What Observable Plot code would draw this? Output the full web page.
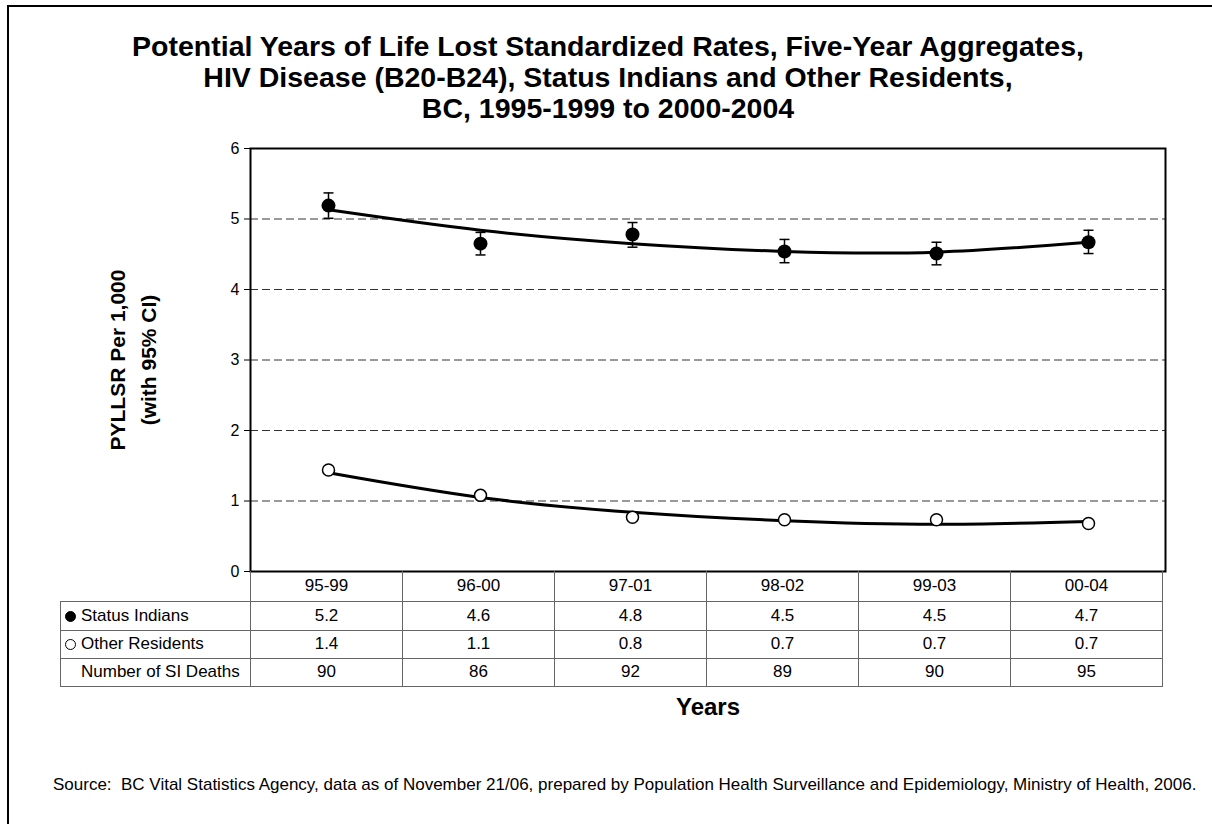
<!DOCTYPE html>
<html>
<head>
<meta charset="utf-8">
<script src="https://cdn.jsdelivr.net/npm/d3@7"></script>
<script src="https://cdn.jsdelivr.net/npm/@observablehq/plot@0.6"></script>
<style>
  html, body { margin: 0; padding: 0; background: #fff; overflow: hidden; }
  #wrap { position: relative; width: 1212px; height: 824px; overflow: hidden; font-family: "Liberation Sans", Arial, sans-serif; color: #000; }
  #border { position: absolute; left: 7px; top: 5px; width: 1400px; height: 1000px; border-left: 2px solid #000; border-top: 2px solid #000; }
  #title { position: absolute; left: 0; width: 1216px; top: 31px; text-align: center; font-weight: bold; font-size: 28.5px; line-height: 31px; }
  #plot { position: absolute; left: 0; top: 0; }
  #ylabel { position: absolute; left: 133px; top: 360px; width: 320px; margin-left: -160px; margin-top: -31px; height: 62px; transform: rotate(-90deg); text-align: center; font-weight: bold; font-size: 21px; line-height: 31px; white-space: pre; }
  #xlabel { position: absolute; top: 693px; left: 608px; width: 200px; text-align: center; font-weight: bold; font-size: 24px; line-height: 28px; }
  #source { position: absolute; left: 53px; top: 775px; font-size: 17px; line-height: 20px; white-space: pre; }
  #table { position: absolute; left: 60px; top: 571px; border-collapse: collapse; table-layout: fixed; }
  #table td { border: 1px solid #666; padding: 0; font-size: 17px; text-align: center; white-space: nowrap; overflow: hidden; }
  #table td.lab { text-align: left; padding-left: 4px; }
  #table td.blank { border-top: none; border-left: none; }
  .sym { display: inline-block; width: 11px; height: 11px; border-radius: 50%; border: 1.5px solid #000; box-sizing: border-box; vertical-align: -1px; margin-right: 5px; }
</style>
</head>
<body>
<div id="wrap">
  <div id="border"></div>
  <div id="title"></div>
  <div id="plot"></div>
  <div id="ylabel"></div>
  <div id="xlabel"></div>
  <div id="source"></div>
</div>
<script>
// ---- data ----
const periods = ["95-99", "96-00", "97-01", "98-02", "99-03", "00-04"];
const siRate  = [5.19, 4.65, 4.78, 4.54, 4.51, 4.67];
const siLow   = [5.01, 4.49, 4.60, 4.38, 4.35, 4.51];
const siHigh  = [5.37, 4.81, 4.95, 4.71, 4.67, 4.84];
const orRate  = [1.44, 1.08, 0.77, 0.735, 0.735, 0.68];
const siTrend = [5.13, 4.84, 4.65, 4.54, 4.53, 4.67];
const orTrend = [1.40, 1.05, 0.84, 0.72, 0.67, 0.71];
const tableSI = ["5.2", "4.6", "4.8", "4.5", "4.5", "4.7"];
const tableOR = ["1.4", "1.1", "0.8", "0.7", "0.7", "0.7"];
const siDeaths = ["90", "86", "92", "89", "90", "95"];
const yTicks = [0, 1, 2, 3, 4, 5, 6];
const gridValues = [1, 2, 3, 4, 5];
const titleLines = [
  "Potential Years of Life Lost Standardized Rates, Five-Year Aggregates,",
  "HIV Disease (B20-B24), Status Indians and Other Residents,",
  "BC, 1995-1999 to 2000-2004"
];
const yLabelLines = ["PYLLSR Per 1,000", "(with 95% CI)"];
const xLabel = "Years";
const rowLabels = ["Status Indians", "Other Residents", "Number of SI Deaths"];
const sourceText = "Source:  BC Vital Statistics Agency, data as of November 21/06, prepared by Population Health Surveillance and Epidemiology, Ministry of Health, 2006.";

// ---- build tables for the library ----
const si = periods.map((p, i) => ({period: p, rate: siRate[i], lo: siLow[i], hi: siHigh[i], trend: siTrend[i]}));
const or = periods.map((p, i) => ({period: p, rate: orRate[i], trend: orTrend[i]}));

const capSymbol = {
  draw(ctx, size) {
    const r = Math.sqrt(size / Math.PI);
    ctx.moveTo(-r, 0);
    ctx.lineTo(r, 0);
  }
};

const plot = Plot.plot({
  width: 1212,
  height: 700,
  marginLeft: 250,
  marginRight: 47,
  marginTop: 148,
  marginBottom: 129,
  style: {fontFamily: "'Liberation Sans', Arial, sans-serif", fontSize: "16px", color: "#000", background: "transparent"},
  x: {type: "band", domain: periods, padding: 0, axis: null},
  y: {domain: [0, 6]},
  marks: [
    Plot.ruleY(gridValues, {stroke: "#333", strokeWidth: 1, strokeDasharray: "8,4"}),
    Plot.axisY({ticks: yTicks, tickFormat: d3.format("d"), tickSize: 6, tickPadding: 5, fontSize: 16, label: null, stroke: "#000", strokeOpacity: 1}),
    Plot.line(si, {x: "period", y: "trend", curve: "natural", stroke: "#000", strokeWidth: 3}),
    Plot.line(or, {x: "period", y: "trend", curve: "natural", stroke: "#000", strokeWidth: 3}),
    Plot.ruleX(si, {x: "period", y1: "lo", y2: "hi", stroke: "#000", strokeWidth: 1.5}),
    Plot.dot(si, {x: "period", y: "hi", symbol: capSymbol, r: 5, fill: "none", stroke: "#000", strokeWidth: 1.5}),
    Plot.dot(si, {x: "period", y: "lo", symbol: capSymbol, r: 5, fill: "none", stroke: "#000", strokeWidth: 1.5}),
    Plot.dot(si, {x: "period", y: "rate", r: 7, fill: "#000", stroke: "none"}),
    Plot.dot(or, {x: "period", y: "rate", r: 6, fill: "#fff", stroke: "#000", strokeWidth: 1.5}),
    Plot.frame({stroke: "#000", strokeWidth: 2})
  ]
});
document.getElementById("plot").appendChild(plot);

// ---- texts ----
document.getElementById("title").innerHTML = titleLines.join("<br>");
document.getElementById("ylabel").textContent = yLabelLines.join("\n");
document.getElementById("xlabel").textContent = xLabel;
document.getElementById("source").textContent = sourceText;

// ---- data table under the plot, sized from the x scale ----
const xs = plot.scale("x");
const step = xs.step || xs.bandwidth;
const tableLeft = 60;
const firstCol = xs.range[0] - tableLeft;
const table = document.createElement("table");
table.id = "table";
table.style.width = (firstCol + step * periods.length) + "px";
const cg = document.createElement("colgroup");
[firstCol, ...periods.map(() => step)].forEach(w => {
  const c = document.createElement("col");
  c.style.width = w + "px";
  cg.appendChild(c);
});
table.appendChild(cg);
const rowHeights = [30, 29, 28, 28];
function addRow(label, values, h, symbol) {
  const tr = document.createElement("tr");
  tr.style.height = h + "px";
  const th = document.createElement("td");
  if (label === null) {
    th.className = "blank";
  } else {
    th.className = "lab";
    if (symbol) {
      const s = document.createElement("span");
      s.className = "sym";
      s.style.background = symbol;
      th.appendChild(s);
    } else {
      th.style.paddingLeft = "20px";
    }
    th.appendChild(document.createTextNode(label));
  }
  tr.appendChild(th);
  values.forEach(v => {
    const td = document.createElement("td");
    td.textContent = v;
    tr.appendChild(td);
  });
  table.appendChild(tr);
  return tr;
}
const hdr = addRow(null, periods, rowHeights[0]);
Array.from(hdr.children).forEach(td => td.style.borderTop = "none");
addRow(rowLabels[0], tableSI, rowHeights[1], "#000");
addRow(rowLabels[1], tableOR, rowHeights[2], "#fff");
addRow(rowLabels[2], siDeaths, rowHeights[3], null);
document.getElementById("wrap").appendChild(table);
</script>
</body>
</html>
